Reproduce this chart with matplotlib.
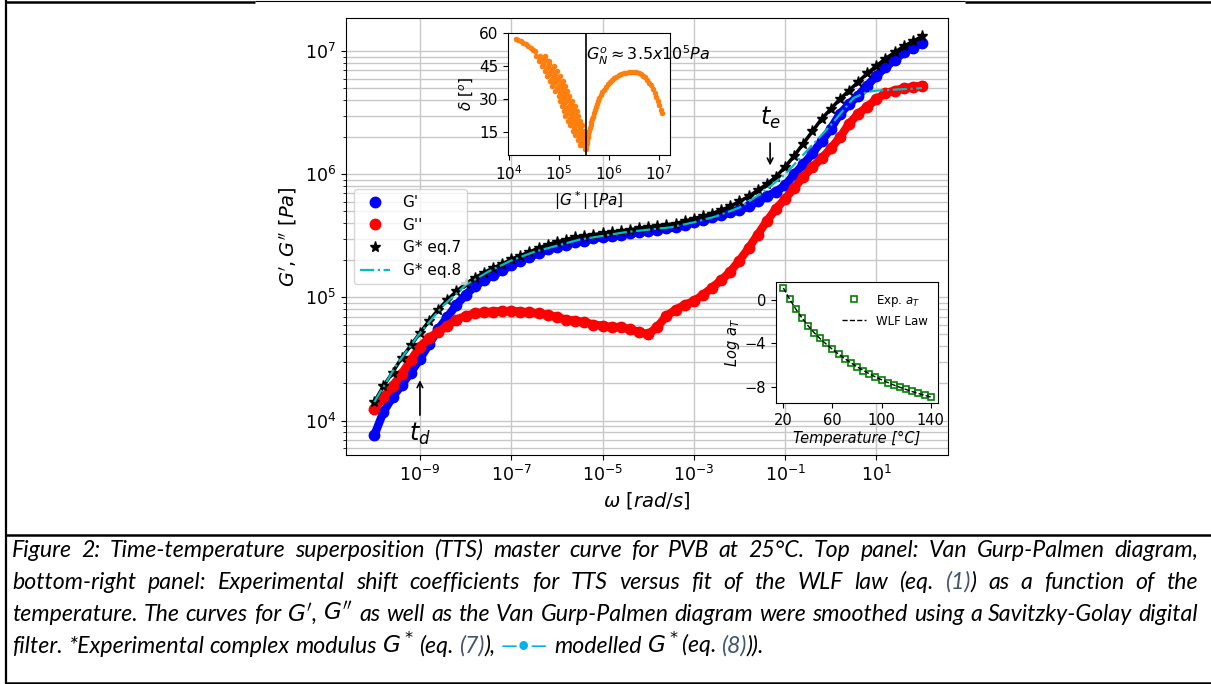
import numpy as np
import matplotlib
matplotlib.use("Agg")
import matplotlib.pyplot as plt
from matplotlib.lines import Line2D
from matplotlib.ticker import NullLocator, LogLocator

# master curve (log10 values)
log_w = [-10.0, -9.8, -9.6, -9.4, -9.2, -9.0, -8.8, -8.6, -8.4, -8.2,
         -8.0, -7.8, -7.6, -7.4, -7.2, -7.0, -6.8, -6.6, -6.4, -6.2,
         -6.0, -5.8, -5.6, -5.4, -5.2, -5.0, -4.8, -4.6, -4.4, -4.2,
         -4.0, -3.8, -3.6, -3.4, -3.2, -3.0, -2.8, -2.6, -2.4, -2.2,
         -2.0, -1.8, -1.6, -1.4, -1.2, -1.0, -0.8, -0.6, -0.4, -0.2,
         0.0, 0.2, 0.4, 0.6, 0.8, 1.0, 1.2, 1.4, 1.6, 1.8, 2.0]
log_Gp = [3.88, 4.07, 4.19, 4.29, 4.39, 4.50, 4.62, 4.74, 4.84, 4.94,
          5.02, 5.09, 5.14, 5.18, 5.22, 5.26, 5.30, 5.33, 5.36, 5.39,
          5.41, 5.43, 5.45, 5.46, 5.48, 5.49, 5.50, 5.51, 5.52, 5.53,
          5.54, 5.55, 5.56, 5.57, 5.59, 5.61, 5.63, 5.65, 5.67, 5.69,
          5.71, 5.74, 5.78, 5.82, 5.86, 5.91, 6.00, 6.08, 6.17, 6.27,
          6.37, 6.49, 6.57, 6.64, 6.72, 6.80, 6.87, 6.93, 6.99, 7.03, 7.07]
log_Gpp = [4.09, 4.19, 4.28, 4.38, 4.49, 4.60, 4.67, 4.72, 4.77, 4.82,
           4.85, 4.87, 4.88, 4.885, 4.89, 4.89, 4.885, 4.88, 4.87, 4.86,
           4.84, 4.82, 4.81, 4.80, 4.78, 4.77, 4.76, 4.76, 4.74, 4.72,
           4.70, 4.76, 4.85, 4.90, 4.94, 4.97, 5.02, 5.08, 5.14, 5.21,
           5.30, 5.40, 5.51, 5.62, 5.72, 5.80, 5.89, 5.98, 6.06, 6.13,
           6.21, 6.30, 6.41, 6.49, 6.55, 6.61, 6.66, 6.68, 6.70, 6.71, 6.72]
log_Gstar = [4.15, 4.28, 4.39, 4.51, 4.61, 4.71, 4.81, 4.90, 4.98, 5.05,
             5.11, 5.16, 5.20, 5.24, 5.27, 5.31, 5.34, 5.37, 5.40, 5.43,
             5.45, 5.47, 5.49, 5.50, 5.51, 5.52, 5.53, 5.54, 5.55, 5.56,
             5.57, 5.58, 5.59, 5.60, 5.62, 5.64, 5.66, 5.68, 5.71, 5.74,
             5.78, 5.82, 5.87, 5.92, 5.98, 6.06, 6.15, 6.25, 6.35, 6.45,
             6.53, 6.61, 6.68, 6.75, 6.82, 6.88, 6.94, 6.99, 7.04, 7.08, 7.12]
# modelled G* (eq. 8)
log_w_fit = [-10.0, -9.5, -9.0, -8.5, -8.0, -7.5, -7.0, -6.5, -6.0, -5.5,
             -5.0, -4.5, -4.0, -3.5, -3.0, -2.5, -2.0, -1.5, -1.0, -0.5,
             0.0, 0.5, 0.8, 1.0, 1.5, 2.0]
log_G_fit = [4.15, 4.46, 4.71, 4.93, 5.10, 5.21, 5.30, 5.37, 5.42, 5.47,
             5.50, 5.53, 5.55, 5.57, 5.61, 5.66, 5.73, 5.85, 6.00, 6.20,
             6.40, 6.62, 6.67, 6.68, 6.69, 6.70]

# Van Gurp-Palmen inset: descending (low modulus) branch
vgp_left_logG = [4.14, 4.19, 4.24, 4.29, 4.34, 4.39, 4.44, 4.49, 4.53,
                 4.54, 4.63, 4.73, 4.62, 4.72, 4.60, 4.70, 4.80, 4.69, 4.80,
                 4.67, 4.78, 4.90, 4.75, 4.87, 4.72, 4.84, 4.96, 4.81, 4.93,
                 4.77, 4.90, 5.03, 4.86, 4.99, 4.82, 4.95, 5.08, 4.91, 5.04,
                 4.87, 5.00, 5.13, 4.96, 5.09, 4.93, 5.05, 5.16, 5.02, 5.13,
                 5.00, 5.10, 5.20, 5.07, 5.18, 5.03, 5.15, 5.26, 5.11, 5.24,
                 5.06, 5.20, 5.33, 5.15, 5.28, 5.10, 5.23, 5.36, 5.18, 5.31,
                 5.13, 5.26, 5.39, 5.22, 5.35, 5.18, 5.31, 5.43, 5.27, 5.39,
                 5.23, 5.35, 5.46, 5.31, 5.42, 5.28, 5.39, 5.48, 5.36, 5.45,
                 5.33, 5.42, 5.51, 5.40, 5.48, 5.38, 5.46, 5.53, 5.44, 5.51,
                 5.43, 5.49, 5.55, 5.52]
vgp_left_delta = [57.4, 56.9, 56.3, 55.6, 54.8, 54.0, 53.3, 52.5, 51.8,
                  49.5, 49.5, 49.5, 48.3, 48.3, 47.2, 47.2, 47.2, 46.1, 46.1,
                  45.0, 45.0, 45.0, 43.8, 43.8, 42.7, 42.7, 42.7, 41.6, 41.6,
                  40.5, 40.5, 40.5, 39.3, 39.3, 38.2, 38.2, 38.2, 37.1, 37.1,
                  36.0, 36.0, 36.0, 34.8, 34.8, 33.7, 33.7, 33.7, 32.6, 32.6,
                  31.5, 31.5, 31.5, 30.3, 30.3, 29.2, 29.2, 29.2, 28.1, 28.1,
                  27.0, 27.0, 27.0, 25.8, 25.8, 24.7, 24.7, 24.7, 23.6, 23.6,
                  22.5, 22.5, 22.5, 21.3, 21.3, 20.2, 20.2, 20.2, 19.1, 19.1,
                  18.0, 18.0, 18.0, 16.8, 16.8, 15.7, 15.7, 15.7, 14.6, 14.6,
                  13.5, 13.5, 13.5, 12.3, 12.3, 11.2, 11.2, 11.2, 10.1, 10.1,
                  9.0, 9.0, 9.0, 7.5]
# rising (high modulus) branch
vgp_right_logG = [5.545, 5.555, 5.565, 5.575, 5.585, 5.595, 5.61, 5.62, 5.635, 5.65,
                  5.665, 5.68, 5.70, 5.72, 5.74, 5.76, 5.78, 5.81, 5.84, 5.87,
                  5.90, 5.94, 5.98, 6.02, 6.06, 6.10, 6.15, 6.20, 6.25, 6.30,
                  6.35, 6.40, 6.45, 6.50, 6.55, 6.60, 6.64, 6.68, 6.72, 6.76,
                  6.80, 6.84, 6.88, 6.92, 6.95, 6.98, 7.01, 7.04, 7.07]
vgp_right_delta = [7.2, 8.5, 10.0, 11.5, 12.8, 14.0, 15.5, 16.8, 18.2, 19.5,
                   20.8, 22.0, 23.5, 25.0, 26.5, 27.8, 29.0, 30.5, 31.8, 33.0,
                   34.2, 35.5, 36.7, 37.8, 38.7, 39.5, 40.2, 40.8, 41.3, 41.7,
                   42.0, 42.3, 42.4, 42.4, 42.2, 41.9, 41.4, 40.7, 39.8, 38.8,
                   37.5, 36.2, 34.6, 32.8, 31.0, 29.2, 27.3, 25.2, 23.5]

# shift factors inset
temps = [20, 25, 30, 35, 40, 45, 50, 55, 60, 65, 70, 75, 80, 85, 90,
         95, 100, 105, 110, 115, 120, 125, 130, 135, 140]
log_aT = [1.09, 0.09, -0.88, -1.67, -2.39, -3.03, -3.55, -4.00, -4.55, -5.00,
          -5.42, -5.82, -6.18, -6.52, -6.82, -7.12, -7.39, -7.58, -7.82, -8.00,
          -8.18, -8.36, -8.55, -8.70, -8.88]
log_aT_wlf = [1.05, 0.05, -0.85, -1.66, -2.38, -3.02, -3.58, -4.08, -4.55, -4.98,
              -5.40, -5.78, -6.14, -6.47, -6.78, -7.07, -7.33, -7.58, -7.81, -8.02,
              -8.22, -8.41, -8.58, -8.75, -8.90]

W, H = 1211, 684
fig = plt.figure(figsize=(W / 100, H / 100), dpi=100)

# ---- main master curve
ax = fig.add_axes([346 / W, 1 - 455 / H, 602 / W, 437 / H])
w = 10 ** np.array(log_w)
ax.plot(w, 10 ** np.array(log_Gp), '-', color='blue', lw=6, zorder=2)
ax.plot(w, 10 ** np.array(log_Gp), 'o', color='blue', ms=7.5, label="G'", zorder=2)
ax.plot(w, 10 ** np.array(log_Gpp), '-', color='red', lw=6, zorder=3)
ax.plot(w, 10 ** np.array(log_Gpp), 'o', color='red', ms=7.5, label="G''", zorder=3)
ax.plot(w, 10 ** np.array(log_Gstar), '-', color='k', lw=2.5, zorder=4)
ax.plot(w, 10 ** np.array(log_Gstar), '*', color='k', ms=8, label='G* eq.7', zorder=4)
ax.plot(10 ** np.array(log_w_fit), 10 ** np.array(log_G_fit), '-.', color='c',
        lw=1.6, label='G* eq.8', zorder=5)
ax.set_xscale('log')
ax.set_yscale('log')
ax.set_xlim(10 ** -10.62, 10 ** 2.57)
ax.set_ylim(10 ** 3.72, 10 ** 7.27)
ax.set_xticks([1e-9, 1e-7, 1e-5, 1e-3, 1e-1, 1e1])
ax.xaxis.set_minor_locator(NullLocator())
ax.yaxis.set_minor_locator(LogLocator(base=10, subs=np.arange(2, 10)))
ax.grid(True, which='major', color='0.78', lw=1.0)
ax.grid(True, which='minor', axis='y', color='0.78', lw=1.0)
ax.tick_params(labelsize=12.5)
ax.set_xlabel(r'$\omega\ [rad/s]$', fontsize=14)
ax.set_ylabel(r"$G', G''\ [Pa]$", fontsize=14)
ax.legend(loc='center left', fontsize=11)

ax.annotate('', xy=(0.047, 1.12e6), xytext=(0.047, 1.89e6),
            arrowprops=dict(arrowstyle='->', color='k', lw=1.2))
ax.text(0.047, 2.9e6, r'$t_e$', fontsize=17, ha='center', va='center')
ax.annotate('', xy=(1e-9, 2.24e4), xytext=(1e-9, 1.05e4),
            arrowprops=dict(arrowstyle='->', color='k', lw=1.2))
ax.text(1e-9, 7.8e3, r'$t_d$', fontsize=17, ha='center', va='center')

# ---- Van Gurp-Palmen inset
ax1 = fig.add_axes([508 / W, 1 - 155 / H, 162 / W, 122 / H])
ax1.scatter(10 ** np.array(vgp_left_logG), vgp_left_delta, s=16, color='#ff7f0e',
            linewidths=0, zorder=2)
ax1.scatter(10 ** np.array(vgp_right_logG), vgp_right_delta, s=16, color='#ff7f0e',
            linewidths=0, zorder=2)
ax1.axvline(3.5e5, color='k', lw=1.2, zorder=3)
ax1.text(3.5e5, 50, r'$G_N^o \approx 3.5x10^5Pa$', fontsize=11.5, va='center',
         ha='left', zorder=4)
ax1.set_xscale('log')
ax1.set_xlim(10 ** 3.99, 10 ** 7.22)
ax1.set_ylim(4.6, 60)
ax1.set_xticks([1e4, 1e5, 1e6, 1e7])
ax1.xaxis.set_minor_locator(NullLocator())
ax1.set_yticks([15, 30, 45, 60])
ax1.tick_params(labelsize=11)
ax1.set_xlabel(r'$|G^*|\ [Pa]$', fontsize=11)
ax1.set_ylabel(r'$\delta\ [^o]$', fontsize=11, labelpad=2)

# ---- shift factor inset
ax2 = fig.add_axes([776 / W, 1 - 403 / H, 162 / W, 121 / H])
ax2.plot(temps, log_aT, 's', mfc='none', mec='green', ms=5, mew=1.2,
         label=r'Exp. $a_T$')
ax2.plot(temps, log_aT_wlf, '--', color='k', lw=1.0, label='WLF Law')
ax2.set_xticks([20, 60, 100, 140])
ax2.set_yticks([0, -4, -8])
ax2.set_ylim(-9.45, 1.6)
ax2.tick_params(labelsize=10.5)
ax2.set_xlabel('Temperature [°C]', fontstyle='italic', fontsize=10.5, labelpad=2)
ax2.set_ylabel(r'$Log\ a_T$', fontsize=10.5, labelpad=2)
ax2.legend(loc='upper right', frameon=False, fontsize=8.5)

# ---- page frame
def frame_line(xs, ys, lw):
    fig.add_artist(Line2D([x / W for x in xs], [1 - y / H for y in ys],
                          color='k', lw=lw, solid_capstyle='butt'))

frame_line([5, 255], [1.5, 1.5], 1.8)
frame_line([255, 965], [1, 1], 0.8)
frame_line([965, 1211], [1.5, 1.5], 1.8)
frame_line([6, 6], [0, 684], 1.6)
frame_line([5, 1211], [535, 535], 1.8)
frame_line([5, 1211], [683, 683], 1.8)

# ---- caption, justified like the document
K = 'black'
REF = '#44546a'
LB = '#00b0f0'
caption = [
    [("Figure 2: Time-temperature superposition (TTS) master curve for PVB at 25°C. "
      "Top panel: Van Gurp-Palmen diagram,", K)],
    [("bottom-right panel: Experimental shift coefficients for TTS versus fit of the "
      "WLF law (eq. ", K), ("(1)", REF), (") as a function of the", K)],
    [("temperature. The curves for $G'$, $G''$ as well as the Van Gurp-Palmen diagram "
      "were smoothed using a Savitzky-Golay digital", K)],
    [("filter. *Experimental complex modulus $G^*$ (eq. ", K), ("(7)", REF), ("), ", K),
     ("—•—", LB), (" modelled $G^*$(eq. ", K), ("(8)", REF), (")).", K)],
]
baselines = [557, 589, 621, 653]
left, right = 12, 1198


def split_words(segs):
    words, cur = [], []
    for text, col in segs:
        parts = text.split(' ')
        for i, p in enumerate(parts):
            if i > 0 and cur:
                words.append(cur)
                cur = []
            if p:
                cur.append((p, col))
    if cur:
        words.append(cur)
    return words


r = fig.canvas.get_renderer()
cap_font = dict(family=['Lato', 'DejaVu Sans'], style='italic', fontsize=14)

# pick the size so the tightest justified line just fits
fit = []
for segs in caption[:3]:
    t = fig.text(0, 0, ''.join(s for s, _ in segs), **cap_font)
    fit.append((right - left) / t.get_window_extent(r).width)
    t.remove()
cap_font['fontsize'] = 14 * min(fit) * 0.99

probe1 = fig.text(0, 0, 'a a', **cap_font)
probe2 = fig.text(0, 0, 'aa', **cap_font)
space = probe1.get_window_extent(r).width - probe2.get_window_extent(r).width
probe1.remove()
probe2.remove()

for li, segs in enumerate(caption):
    yb = 1 - baselines[li] / H
    words = split_words(segs)
    placed = []
    widths = []
    for word in words:
        pieces = []
        off = 0
        for txt, col in word:
            t = fig.text(0, yb, txt, color=col, va='baseline', ha='left', **cap_font)
            pieces.append((t, off))
            off += t.get_window_extent(r).width
        placed.append(pieces)
        widths.append(off)
    if li < len(caption) - 1:
        gap = (right - left - sum(widths)) / (len(words) - 1)
    else:
        gap = space
    x = left
    for pieces, wd in zip(placed, widths):
        for t, off in pieces:
            t.set_x((x + off) / W)
        x += wd + gap

fig.savefig('out.png', dpi=100)
